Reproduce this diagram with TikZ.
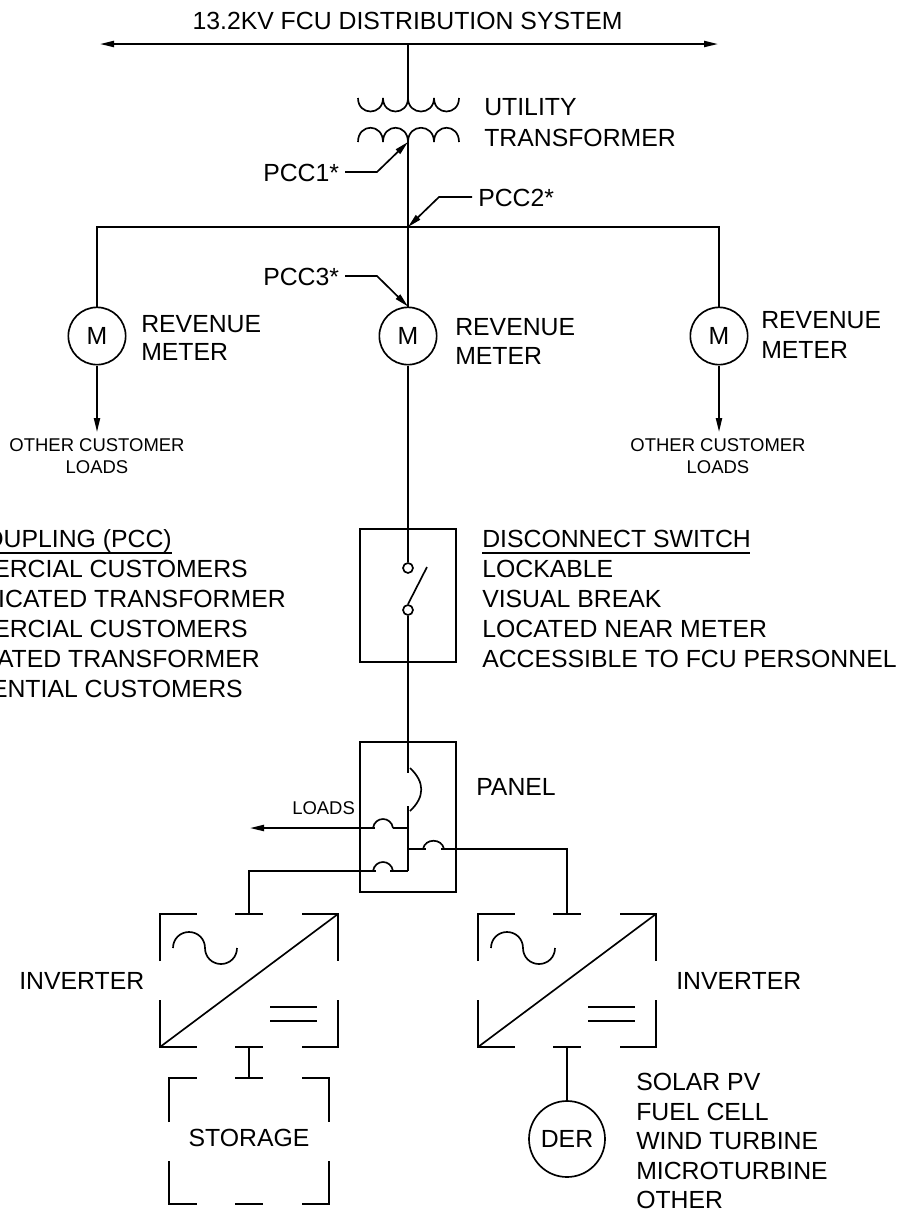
\documentclass[tikz,border=0pt]{standalone}
\usepackage{fontspec}
\setmainfont{Liberation Sans}
\usetikzlibrary{arrows.meta}
\newcommand{\bigtxt}{\fontsize{18.6}{20}\selectfont}
\newcommand{\smalltxt}{\fontsize{13.85}{15}\selectfont}
\tikzset{
  wire/.style={line width=1.4pt,line join=miter},
  thin wire/.style={line width=1.25pt},
  tip/.style={-{Stealth[length=10.5pt,width=4.6pt,inset=0pt]}},
  tips/.style={{Stealth[length=10.5pt,width=4.6pt,inset=0pt]}-{Stealth[length=10.5pt,width=4.6pt,inset=0pt]}},
  meter/.style={circle,draw,line width=1.25pt,minimum size=43pt,inner sep=0pt,font=\bigtxt},
  contact/.style={circle,draw,line width=1.25pt,minimum size=7.5pt,inner sep=0pt,fill=white},
  enclosure/.style={rectangle,draw,line width=1.3pt,inner sep=0pt,minimum width=72pt},
  big/.style={anchor=base west,inner sep=0pt,font=\bigtxt},
  bigr/.style={anchor=base east,inner sep=0pt,font=\bigtxt},
  small/.style={anchor=base,inner sep=0pt,font=\smalltxt},
  inverter/.pic={
    \draw[thin wire] (0,47) -- (0,0) -- (37,0) (75,0) -- (103,0) (142,0) -- (178,0) -- (178,47);
    \draw[thin wire] (0,86) -- (0,133) -- (37,133) (75,133) -- (103,133) (142,133) -- (178,133) -- (178,86);
    \draw[thin wire] (0,133) -- (178,0);
    \draw[thin wire] (13,34) .. controls (13,25) and (20,18) .. (29,18)
       .. controls (38,18) and (45,25) .. (45,34)
       .. controls (45,43) and (52,50) .. (61,50)
       .. controls (70,50) and (77,43) .. (77,34);
    \draw[thin wire] (110,93) -- (157,93) (110,107) -- (157,107);
    \coordinate (-t) at (89,0);
    \coordinate (-b) at (89,133);
  },
}
\begin{document}
\begin{tikzpicture}[x=0.75pt,y=-0.75pt]
\useasboundingbox (0,0) rectangle (901,1211);
\clip (0,0) rectangle (901,1211);

% top bus and transformer
\coordinate (tl) at (100,44);
\coordinate (tr) at (718,44);
\coordinate (tm) at (408,44);
\coordinate (xu) at (408,98);
\coordinate (xl) at (408,142);
\coordinate (bus) at (408,227);
\coordinate (busl) at (97,227);
\coordinate (busr) at (719,227);
\draw[wire,tips] (tl) -- (tr);
\draw[wire] (tm) -- (xu);
\draw[thin wire] (358,98)
  .. controls (358,116) and (383,116) .. (383,98)
  .. controls (383,116) and (408,116) .. (408,98)
  .. controls (408,116) and (434,116) .. (434,98)
  .. controls (434,116) and (459,116) .. (459,98);
\draw[thin wire] (358,142)
  .. controls (358,123) and (383,123) .. (383,142)
  .. controls (383,123) and (408,123) .. (408,142)
  .. controls (408,123) and (434,123) .. (434,142)
  .. controls (434,123) and (459,123) .. (459,142);

% meters
\node[meter] (m1) at (97,336) {M};
\node[meter] (m2) at (408,336) {M};
\node[meter] (m3) at (719,336) {M};
\draw[wire] (xl) -- (bus) -- (m2.north);
\draw[wire] (m1.north) -- (busl) -- (busr) -- (m3.north);
\coordinate (l1) at (97,432);
\coordinate (l3) at (719,432);
\draw[wire,tip] (m1.south) -- (l1);
\draw[wire,tip] (m3.south) -- (l3);

% PCC leaders
\coordinate (p1a) at (345,172); \coordinate (p1b) at (377,172);
\coordinate (p2a) at (472,197); \coordinate (p2b) at (439,197);
\coordinate (p3a) at (345,276); \coordinate (p3b) at (377,276);
\draw[thin wire,tip] (p1a) -- (p1b) -- (xl);
\draw[thin wire,tip] (p2a) -- (p2b) -- (bus);
\draw[thin wire,tip] (p3a) -- (p3b) -- (m2.north);

% disconnect switch
\node[enclosure,minimum height=99.75pt] (sw) at (408,595.5) {};
\node[contact] (c1) at (408,568) {};
\node[contact] (c2) at (408,610) {};
\coordinate (blade) at (427,567);
\draw[wire] (m2.south) -- (c1.north);
\draw[thin wire] (c2.north) -- (blade);

% panel
\node[enclosure,minimum height=112.5pt] (pn) at (408,817) {};
\coordinate (bk1) at (408,773);
\coordinate (bk2) at (408,806);
\coordinate (j1) at (408,828);
\coordinate (j2) at (408,849);
\coordinate (j3) at (408,871);
\draw[wire] (c2.south) -- (bk1);
\draw[thin wire] (410,768) .. controls (425,782) and (425,797) .. (410,811);
\draw[wire] (bk2) -- (j3);
\draw[wire] (j1) -- (393,828);
\draw[thin wire] (393,828) .. controls (391,816) and (375,816) .. (373,828);
\coordinate (loadtip) at (250,828);
\draw[wire,tip] (375,828) -- (loadtip);
\draw[wire] (j2) -- (426,849);
\draw[thin wire] (423,849) .. controls (425,838) and (442,838) .. (444,849);
\draw[wire] (441,849) -- (567,849) -- (567,914) coordinate (invbtop);
\draw[wire] (j3) -- (390,871);
\draw[thin wire] (393,871) .. controls (391,859) and (375,859) .. (373,871);
\draw[wire] (376,871) -- (249,871) -- (249,914);

% inverters
\pic (inva) at (160,914) {inverter};
\pic (invb) at (478,914) {inverter};

% storage
\draw[thin wire] (169,1122) -- (169,1078) -- (197,1078) (235,1078) -- (263,1078) (302,1078) -- (329,1078) -- (329,1122);
\draw[thin wire] (169,1161) -- (169,1204) -- (197,1204) (235,1204) -- (263,1204) (302,1204) -- (329,1204) -- (329,1161);
\coordinate (st) at (249,1078);
\draw[thin wire] (inva-b) -- (st);
\node[inner sep=0pt,anchor=base,font=\bigtxt] (stor) at (249,1146) {STORAGE};

% DER
\node[meter,minimum size=57pt] (der) at (567,1139) {DER};
\draw[wire] (invb-b) -- (der.north);

% labels
\node[anchor=base,inner sep=0pt,font=\bigtxt] (title) at (407.5,29) {13.2KV FCU DISTRIBUTION SYSTEM};
\node[big] (t1) at (484,115) {UTILITY};
\node[big] (t2) at (484,146) {TRANSFORMER};
\node[big] (pc1) at (263,181) {PCC1*};
\node[big] (pc2) at (478,206) {PCC2*};
\node[big] (pc3) at (263,285) {PCC3*};
\node[big] (r1a) at (141,332) {REVENUE};
\node[big] (r1b) at (141,360) {METER};
\node[big] (r2a) at (455,335) {REVENUE};
\node[big] (r2b) at (455,364) {METER};
\node[big] (r3a) at (761,328) {REVENUE};
\node[big] (r3b) at (761,358) {METER};
\node[small] (o1a) at (97,451) {OTHER CUSTOMER};
\node[small] (o1b) at (97,473) {LOADS};
\node[small] (o3a) at (718,451) {OTHER CUSTOMER};
\node[small] (o3b) at (718,473) {LOADS};

\node[bigr] (a1) at (172,547) {COUPLING (PCC)};
\node[bigr] (a2) at (248,577) {ERCIAL CUSTOMERS};
\node[bigr] (a3) at (286,607) {ICATED TRANSFORMER};
\node[bigr] (a4) at (248,637) {ERCIAL CUSTOMERS};
\node[bigr] (a5) at (260,667) {ATED TRANSFORMER};
\node[bigr] (a6) at (243,697) {ENTIAL CUSTOMERS};
\coordinate (ua) at (0,553); \coordinate (ub) at (172,553);
\draw[thin wire] (ua) -- (ub);

\node[big] (d1) at (482,547) {DISCONNECT SWITCH};
\coordinate (uc) at (482,553); \coordinate (ud) at (750,553);
\draw[thin wire] (uc) -- (ud);
\node[big] (d2) at (482,577) {LOCKABLE};
\node[big] (d3) at (482,607) {VISUAL BREAK};
\node[big] (d4) at (482,637) {LOCATED NEAR METER};
\node[big] (d5) at (482,667) {ACCESSIBLE TO FCU PERSONNEL};

\node[big] (pl) at (476,795) {PANEL};
\node[anchor=base west,inner sep=0pt,font=\smalltxt] (ll) at (292,814) {LOADS};
\node[big] (i1) at (19,989) {INVERTER};
\node[big] (i2) at (676,989) {INVERTER};
\node[big] (s1) at (636,1090) {SOLAR PV};
\node[big] (s2) at (636,1120) {FUEL CELL};
\node[big] (s3) at (636,1149) {WIND TURBINE};
\node[big] (s4) at (636,1179) {MICROTURBINE};
\node[big] (s5) at (636,1208) {OTHER};
\end{tikzpicture}
\end{document}
